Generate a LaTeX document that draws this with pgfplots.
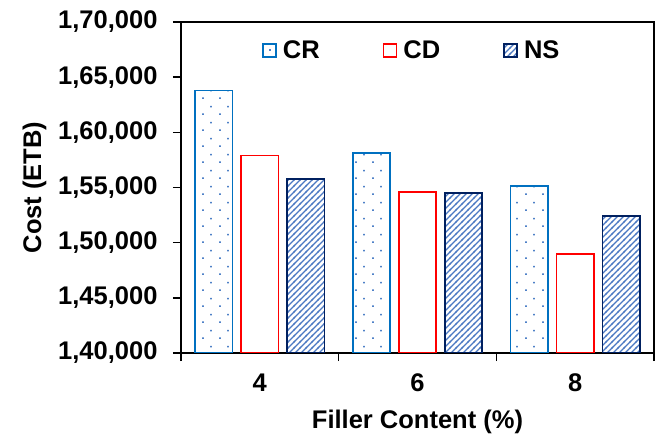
\documentclass[border=0pt]{standalone}
\usepackage{pgfplots}
\pgfplotsset{compat=1.18}
\usepackage{fontspec}
\setmainfont{Liberation Sans}
\usetikzlibrary{patterns.meta,calc}

\definecolor{crline}{HTML}{0070C0}
\definecolor{crdot}{HTML}{4F81C7}
\definecolor{cdline}{HTML}{FF0000}
\definecolor{nsline}{HTML}{002060}
\definecolor{nshatch}{HTML}{4A78C2}

% sparse staggered dots
\tikzdeclarepattern{
  name=sparsedots,
  type=uncolored,
  bottom left={(0pt,0pt)},
  top right={(16.6pt,16pt)},
  tile size={(16.6pt,16pt)},
  code={
    \fill (3.2pt,3.2pt) rectangle (4.9pt,4.9pt);
    \fill (11.5pt,11.2pt) rectangle (13.2pt,12.9pt);
  }
}
% diagonal hatching
\tikzdeclarepattern{
  name=diaghatch,
  type=uncolored,
  bottom left={(-1pt,-1pt)},
  top right={(7pt,7pt)},
  tile size={(6pt,6pt)},
  code={
    \draw[line width=1.3pt] (-1pt,-1pt) -- (7pt,7pt);
  }
}

\begin{document}
\begin{tikzpicture}
\begin{axis}[
  name=ax,
  scale only axis,
  width=473pt, height=331pt,
  ybar=8.5pt,
  bar width=37.5pt,
  xmin=-0.5, xmax=2.5,
  ymin=140000, ymax=170000,
  scaled y ticks=false,
  xtick={0,1,2},
  xticklabels={4,6,8},
  minor xtick={-0.5,0.5,1.5,2.5},
  major x tick style={draw=none},
  minor tick length=8pt,
  ytick={140000,145000,150000,155000,160000,165000,170000},
  yticklabels={{1,40,000},{1,45,000},{1,50,000},{1,55,000},{1,60,000},{1,65,000},{1,70,000}},
  major tick length=8pt,
  tick align=outside,
  xtick pos=bottom,
  ytick pos=left,
  axis line style={line width=2pt, black},
  tick style={line width=1.6pt, black},
  ticklabel style={font=\fontsize{25.5}{30}\selectfont\bfseries},
  yticklabel style={xshift=-12pt},
  xticklabel style={yshift=-9pt},
  label style={font=\fontsize{25.5}{30}\selectfont\bfseries},
  xlabel={Filler Content (\%)},
  ylabel={Cost (ETB)},
  xlabel style={yshift=-12pt},
  ylabel style={yshift=5pt},
  legend style={
    draw=none, fill=none,
    at={(rel axis cs:0.165,0.955)}, anchor=north west,
    legend columns=3,
    font=\fontsize{25.5}{30}\selectfont\bfseries,
    /tikz/every even column/.append style={column sep=61pt},
  },
  legend image code/.code={
    \draw[#1, line width=1.6pt] (0pt,-6.5pt) rectangle (13pt,6.5pt);
    \path (17pt,0pt);
  },
]
\addplot[draw=crline, line width=1.8pt, pattern=sparsedots, pattern color=crdot]
  coordinates {(0,163800) (1,158100) (2,155150)};
\addplot[draw=cdline, line width=1.8pt, fill=white]
  coordinates {(0,157900) (1,154600) (2,149000)};
\addplot[draw=nsline, line width=1.8pt, pattern=diaghatch, pattern color=nshatch]
  coordinates {(0,155800) (1,154500) (2,152400)};
\legend{CR, CD, NS}
\end{axis}
\path ($(ax.south west)+(-181pt,-85pt)$) rectangle ($(ax.north east)+(4pt,22pt)$);
\end{tikzpicture}
\end{document}
